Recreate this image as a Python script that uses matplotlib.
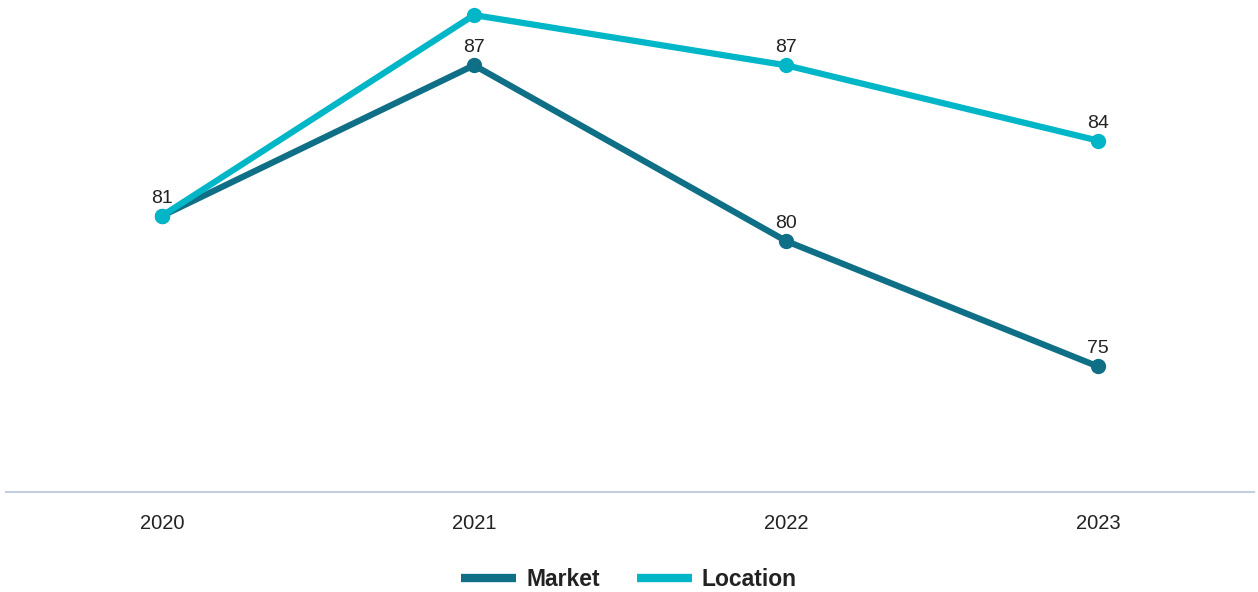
import matplotlib
matplotlib.use("Agg")
from matplotlib import pyplot as plt

years = ["2020", "2021", "2022", "2023"]
market = [81, 87, 80, 75]
location = [81, 89, 87, 84]

market_color = "#0f6f86"
location_color = "#00b6c7"

plt.rcParams["font.family"] = ["Liberation Sans", "DejaVu Sans"]

fig = plt.figure(figsize=(12.58, 5.92), dpi=100)
ax = fig.add_axes([6 / 1258, 100 / 592, 1248 / 1258, 492 / 592])

x = list(range(len(years)))
ax.plot(x, market, color=market_color, lw=4.5, marker="o", ms=10,
        solid_capstyle="round", label="Market", zorder=3)
ax.plot(x, location, color=location_color, lw=4.5, marker="o", ms=10,
        solid_capstyle="round", label="Location", zorder=4)

ax.set_xlim(-0.5, 3.5)
ax.set_ylim(70, 89.6)

# value labels above each point; one label where both series meet,
# none where it would run off the top
labelled = set()
for series in (market, location):
    for xi, v in zip(x, series):
        if v + 0.8 > 89.6 or (xi, v) in labelled:
            continue
        labelled.add((xi, v))
        ax.annotate(str(v), (xi, v), xytext=(0, 6.5), textcoords="offset points",
                    ha="center", va="bottom", fontsize=14, color="#222222")

ax.set_xticks(x)
ax.set_xticklabels(years, fontsize=14.5, color="#222222")
ax.tick_params(axis="x", length=0, pad=16)
ax.set_yticks([])
for side in ("top", "left", "right"):
    ax.spines[side].set_visible(False)
ax.spines["bottom"].set_color("#c3cfe0")
ax.spines["bottom"].set_linewidth(1.5)

leg = fig.legend(loc="center", bbox_to_anchor=(0.5, 1 - 580 / 592), ncol=2,
                 frameon=False, handlelength=2.4, handletextpad=0.45,
                 columnspacing=1.6, prop={"weight": "bold", "size": 16.5})
for h in leg.get_lines():
    h.set_linewidth(6)
    h.set_marker("")
    h.set_solid_capstyle("butt")
for t in leg.get_texts():
    t.set_color("#222222")

fig.savefig("out.png", dpi=100)
